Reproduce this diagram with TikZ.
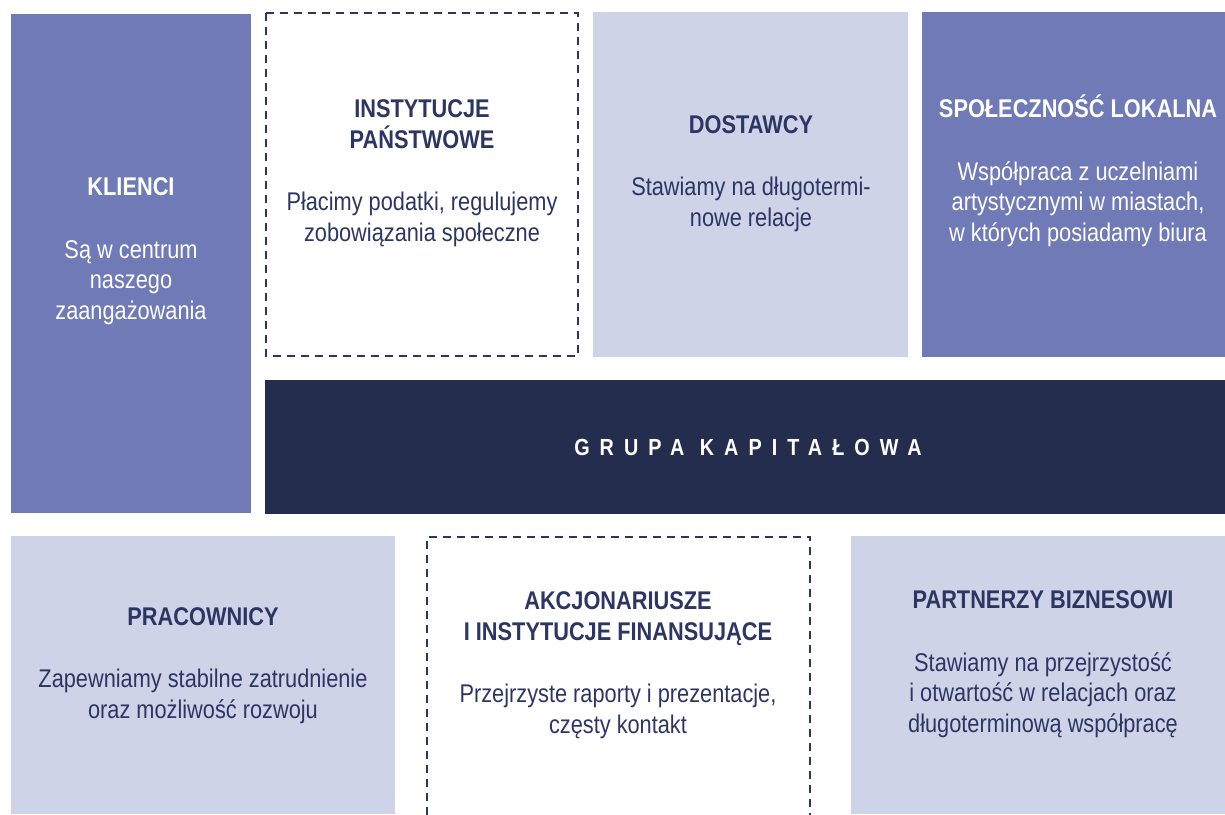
\documentclass[tikz,border=0pt]{standalone}
\usepackage{fontspec}
\setmainfont{Liberation Sans}[FakeStretch=0.85]
\usepackage{tikz}
\definecolor{fioletSredni}{HTML}{6F7AB7}
\definecolor{fioletJasny}{HTML}{CED3E7}
\definecolor{granatTlo}{HTML}{242D4E}
\definecolor{granatTekst}{HTML}{2D3563}

\begin{document}
\begin{tikzpicture}[x=1pt,y=-1pt,
		poleKreska/.style={draw=granatTekst,line width=2,dash pattern=on 8 off 6},
		opis/.style={align=center,anchor=base,inner sep=0,text=granatTekst,font=\fontsize{25.6}{30.5}\selectfont},
		opisBialy/.style={opis,text=white}]
		\useasboundingbox (0,0) rectangle (1225,814);
		\newcommand{\tytul}[1]{\textbf{#1}}
		
		\fill[fioletSredni] (11,14) rectangle (251,513);
		\draw[poleKreska] (266,13) rectangle (578,356);
		\fill[fioletJasny] (593,12) rectangle (908,357);
		\fill[fioletSredni] (922,12) rectangle (1225,357);
		\fill[granatTlo] (265,380) rectangle (1225,514);
		\fill[fioletJasny] (11,536) rectangle (395,814);
		\draw[poleKreska] (427,815) -- (427,536.5) -- (810,536.5) -- (810,815);
		\fill[fioletJasny] (851,536) rectangle (1225,814);
		
		% kotwica base = linia bazowa ostatniego wiersza
		\node[opisBialy] (klienci) at (131,319) {\tytul{KLIENCI}\\[32pt]Są w centrum\\naszego\\zaangażowania};
		\node[opis] (instytucje) at (422,241) {\tytul{INSTYTUCJE}\\\tytul{PAŃSTWOWE}\\[32pt]Płacimy podatki, regulujemy\\zobowiązania społeczne};
		\node[opis] (dostawcy) at (751,226) {\tytul{DOSTAWCY}\\[32pt]Stawiamy na długotermi-\\nowe relacje};
		\node[opisBialy] (spolecznosc) at (1078,241) {\tytul{SPOŁECZNOŚĆ LOKALNA}\\[32pt]Współpraca z uczelniami\\artystycznymi w miastach,\\w których posiadamy biura};
		\node[anchor=base,inner sep=0,text=white,font=\bfseries\fontsize{23.3}{28}\selectfont\addfontfeature{LetterSpace=43}] (grupa) at (748,455) {GRUPA KAPITAŁOWA};
		\node[opis] (pracownicy) at (203,718) {\tytul{PRACOWNICY}\\[32pt]Zapewniamy stabilne zatrudnienie\\oraz możliwość rozwoju};
		\node[opis] (akcjonariusze) at (618,733) {\tytul{AKCJONARIUSZE}\\\tytul{I INSTYTUCJE FINANSUJĄCE}\\[32pt]Przejrzyste raporty i prezentacje,\\częsty kontakt};
		\node[opis] (partnerzy) at (1043,732) {\tytul{PARTNERZY BIZNESOWI}\\[32pt]Stawiamy na przejrzystość\\i otwartość w relacjach oraz\\długoterminową współpracę};
	\end{tikzpicture}
\end{document}
